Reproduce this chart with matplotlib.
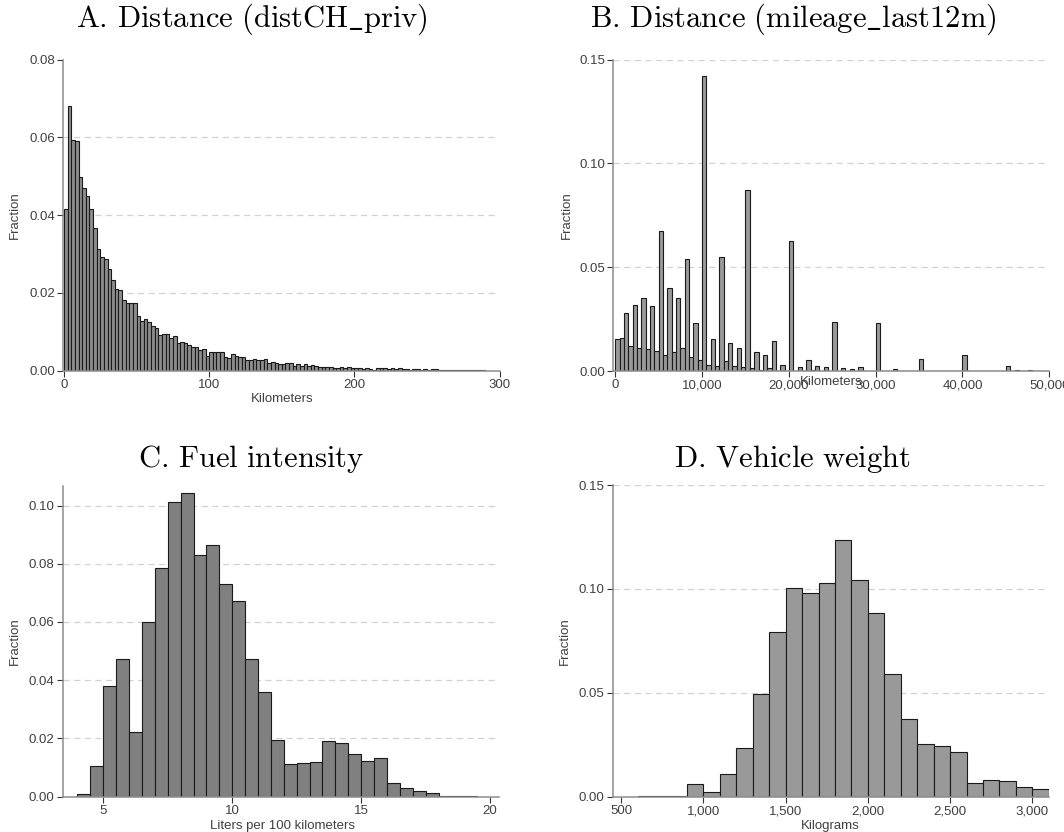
import numpy as np
import matplotlib
matplotlib.use("Agg")
import matplotlib.pyplot as plt

plt.rcParams['font.family'] = ['Liberation Sans', 'DejaVu Sans']
plt.rcParams['mathtext.fontset'] = 'cm'

# A. distCH_priv, bins of 2.5 km from 0
a_start, a_width = 0.0, 2.5
a_fraction = [
    0.0415, 0.0681, 0.0593, 0.0591, 0.0497, 0.0469, 0.0448, 0.0415, 0.0366, 0.0313,
    0.0292, 0.0287, 0.0262, 0.0234, 0.0210, 0.0208, 0.0182, 0.0174, 0.0174, 0.0174,
    0.0140, 0.0127, 0.0132, 0.0124, 0.0114, 0.0109, 0.0092, 0.0094, 0.0094, 0.0085,
    0.0089, 0.0071, 0.0075, 0.0071, 0.0065, 0.0062, 0.0062, 0.0053, 0.0056, 0.0038,
    0.0049, 0.0047, 0.0047, 0.0049, 0.0034, 0.0032, 0.0042, 0.0039, 0.0036, 0.0034,
    0.0027, 0.0027, 0.0029, 0.0028, 0.0027, 0.0029, 0.0021, 0.0023, 0.0019, 0.0017,
    0.0017, 0.0020, 0.0020, 0.0013, 0.0016, 0.0012, 0.0016, 0.0013, 0.0015, 0.0013,
    0.0010, 0.0010, 0.0010, 0.0010, 0.0006, 0.0008, 0.0010, 0.0006, 0.0009, 0.0008,
    0.0007, 0.0006, 0.0005, 0.0008, 0.0004, 0.0003, 0.0007, 0.0007, 0.0006, 0.0005,
    0.0007, 0.0004, 0.0006, 0.0005, 0.0004, 0.0003, 0.0005, 0.0004, 0.0003, 0.0004,
    0.0003, 0.0004, 0.0004, 0.0002, 0.0003, 0.0003, 0.0002, 0.0003, 0.0001, 0.0001,
    0.0003, 0.0001, 0.0001, 0.0001, 0.0002, 0.0001,
]

# B. mileage_last12m, bins of 500 km from 0
b_start, b_width = 0.0, 500.0
b_fraction = [
    0.0153, 0.0158, 0.0281, 0.0121, 0.0317, 0.0113, 0.0352, 0.0106, 0.0314, 0.0096,
    0.0674, 0.0077, 0.0399, 0.0093, 0.0352, 0.0109, 0.0540, 0.0069, 0.0230, 0.0053,
    0.1420, 0.0029, 0.0153, 0.0024, 0.0551, 0.0050, 0.0137, 0.0026, 0.0109, 0.0018,
    0.0870, 0.0013, 0.0092, 0.0006, 0.0076, 0.0015, 0.0143, 0.0002, 0.0027, 0.0001,
    0.0625, 0.0000, 0.0017, 0.0001, 0.0055, 0.0003, 0.0024, 0.0001, 0.0021, 0.0001,
    0.0238, 0.0000, 0.0013, 0.0000, 0.0008, 0.0000, 0.0019, 0.0000, 0.0001, 0.0000,
    0.0233, 0.0000, 0.0001, 0.0001, 0.0008, 0.0000, 0.0001, 0.0000, 0.0001, 0.0000,
    0.0059, 0.0000, 0.0001, 0.0000, 0.0001, 0.0000, 0.0001, 0.0000, 0.0001, 0.0000,
    0.0078, 0.0000, 0.0001, 0.0000, 0.0001, 0.0000, 0.0000, 0.0001, 0.0000, 0.0000,
    0.0022, 0.0000, 0.0003, 0.0001, 0.0002, 0.0003, 0.0001, 0.0002, 0.0001,
]

# C. fuel intensity, bins of 0.5 l/100km from 4.0
c_start, c_width = 4.0, 0.5
c_fraction = [
    0.0008, 0.0105, 0.0380, 0.0474, 0.0221, 0.0601, 0.0787, 0.1011, 0.1042, 0.0831,
    0.0864, 0.0729, 0.0672, 0.0473, 0.0359, 0.0195, 0.0113, 0.0117, 0.0119, 0.0190,
    0.0183, 0.0145, 0.0121, 0.0132, 0.0048, 0.0030, 0.0018, 0.0011, 0.0002, 0.0001,
    0.0001,
]

# D. vehicle weight, bins of 100 kg from 600
d_start, d_width = 600.0, 100.0
d_fraction = [
    0.0001, 0.0001, 0.0001, 0.0059, 0.0022, 0.0111, 0.0233, 0.0493, 0.0794, 0.1003,
    0.0982, 0.1030, 0.1235, 0.1041, 0.0882, 0.0589, 0.0372, 0.0253, 0.0242, 0.0213,
    0.0064, 0.0079, 0.0074, 0.0047, 0.0039,
]

W, H = 1064, 832
fig = plt.figure(figsize=(W / 100, H / 100), dpi=100)


def px_axes(l, r, t, b):
    return fig.add_axes([l / W, 1 - b / H, (r - l) / W, (b - t) / H])


def panel(ax, start, width, vals, color, xlim, ylim, yticks, grid, xticks, xfmt):
    edges = start + width * np.arange(len(vals))
    for y in grid:
        ax.axhline(y, color='#d2d2d2', lw=0.9, ls=(0, (5, 3.5)), zorder=0)
    ax.bar(edges, vals, width=width, align='edge', color=color,
           edgecolor='#1a1a1a', linewidth=0.8, zorder=2)
    ax.set_xlim(*xlim)
    ax.set_ylim(*ylim)
    ax.set_yticks(yticks)
    ax.set_yticklabels([f'{v:.2f}' for v in yticks])
    ax.set_xticks(xticks)
    ax.set_xticklabels([xfmt(v) for v in xticks])
    for s in ('top', 'right'):
        ax.spines[s].set_visible(False)
    for s in ('left', 'bottom'):
        ax.spines[s].set_color('#8c8c8c')
        ax.spines[s].set_linewidth(1.1)
    ax.tick_params(length=4, width=0.8, color='#333333', labelsize=9.5,
                   labelcolor='#404040', pad=2)
    ax.patch.set_visible(False)


comma = lambda v: f'{int(v):,}'

axA = px_axes(63.3, 499.5, 59.5, 370.7)
panel(axA, a_start, a_width, a_fraction, '#8c8c8c', (-0.5, 300), (0, 0.08),
      [0, 0.02, 0.04, 0.06, 0.08], [0.02, 0.04, 0.06], [0, 100, 200, 300], comma)

axB = px_axes(613.3, 1049.3, 59.7, 371.0)
panel(axB, b_start, b_width, b_fraction, '#999999', (-230, 50000), (0, 0.15),
      [0, 0.05, 0.10, 0.15], [0.05, 0.10, 0.15], [0, 10000, 20000, 30000, 40000, 50000], comma)

axC = px_axes(62.7, 498.7, 486.0, 796.7)
panel(axC, c_start, c_width, c_fraction, '#808080', (3.43, 20.33), (0, 0.1067),
      [0, 0.02, 0.04, 0.06, 0.08, 0.10], [0.02, 0.04, 0.06, 0.08, 0.10], [5, 10, 15, 20], comma)

axD = px_axes(612.7, 1048.7, 485.0, 796.7)
panel(axD, d_start, d_width, d_fraction, '#999999', (447.8, 3100), (0, 0.15),
      [0, 0.05, 0.10, 0.15], [0.05, 0.10, 0.15], [500, 1000, 1500, 2000, 2500, 3000], comma)

# titles
title_kw = dict(ha='center', va='center', fontsize=22)
fig.text(252 / W, 1 - 19 / H, r'$\mathrm{A.\,Distance\ (distCH\_priv)}$', **title_kw)
fig.text(793 / W, 1 - 19 / H, r'$\mathrm{B.\,Distance\ (mileage\_last12m)}$', **title_kw)
fig.text(251 / W, 1 - 459 / H, r'$\mathrm{C.\,Fuel\ intensity}$', **title_kw)
fig.text(792 / W, 1 - 459 / H, r'$\mathrm{D.\,Vehicle\ weight}$', **title_kw)

# axis labels
lab_kw = dict(fontsize=9.5, color='#404040', ha='center', va='center')
fig.text(15 / W, 1 - 215 / H, 'Fraction', rotation=90, **lab_kw)
fig.text(567 / W, 1 - 215 / H, 'Fraction', rotation=90, **lab_kw)
fig.text(15 / W, 1 - 641 / H, 'Fraction', rotation=90, **lab_kw)
fig.text(565 / W, 1 - 641 / H, 'Fraction', rotation=90, **lab_kw)
fig.text(282 / W, 1 - 399 / H, 'Kilometers', **lab_kw)
fig.text(831 / W, 1 - 382 / H, 'Kilometers', **lab_kw)
fig.text(282 / W, 1 - 826 / H, 'Liters per 100 kilometers', **lab_kw)
fig.text(830 / W, 1 - 826 / H, 'Kilograms', **lab_kw)

fig.savefig('out.png', dpi=100, facecolor='white')
